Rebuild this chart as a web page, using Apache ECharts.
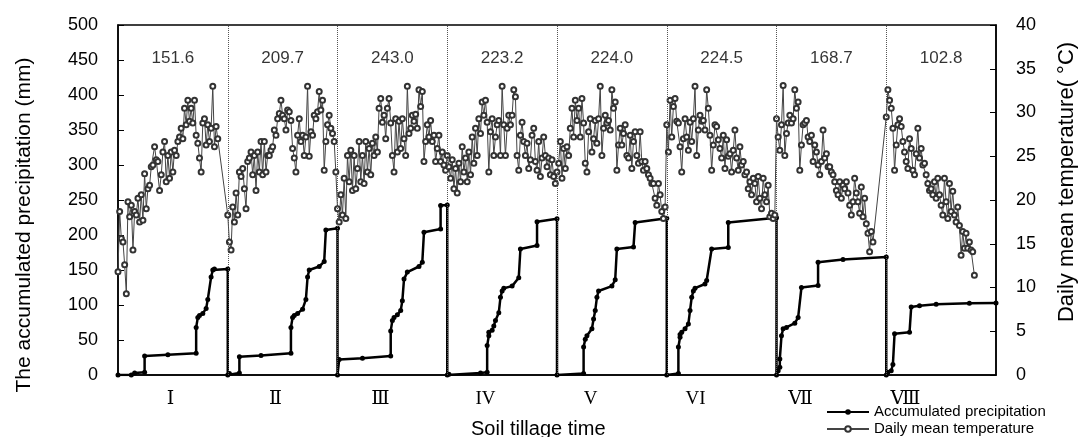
<!DOCTYPE html>
<html>
<head>
<meta charset="utf-8">
<script src="https://cdn.jsdelivr.net/npm/echarts@6/dist/echarts.min.js"></script>
<style>
  html, body { margin: 0; padding: 0; background: #fff; }
  #chart { width: 1086px; height: 437px; }
</style>
</head>
<body>
<div id="chart"></div>
<script>
// tillage times and accumulated precipitation of each period (mm)
const periods = ['Ⅰ', 'Ⅱ', 'Ⅲ', 'IV', 'V', 'VI', 'Ⅶ', 'Ⅷ'];
const totals = [151.6, 209.7, 243.0, 223.2, 224.0, 224.5, 168.7, 102.8];

// daily mean temperature (°C), one array per period
const tempI = [11.8,18.7,15.6,15.2,12.6,9.3,19.8,18.1,19.4,14.3,18.7,18.3,20.2,17.5,20.6,17.7,23.0,19.0,21.3,21.7,23.8,24.0,26.1,24.6,24.4,21.1,22.9,25.5,26.7,22.1,25.1,22.5,25.5,23.2,25.7,25.1,26.7,27.2,28.2,27.0,30.5,28.6,31.4,29.0,30.5,28.8,31.4,27.4,26.5,24.8,23.2,28.8,29.3,26.3,28.6,26.7,28.2,33.0,26.1,28.4,27.0];
const tempII = [18.3,15.2,14.3,19.2,17.5,20.8,18.3,23.2,22.7,23.6,21.3,19.0,24.4,24.8,25.5,22.9,25.1,21.1,25.5,23.2,26.7,22.9,26.7,23.2,25.1,25.1,25.7,26.1,28.0,27.4,29.3,29.9,31.4,29.7,29.3,28.0,30.3,30.1,29.1,25.9,24.8,23.2,27.4,29.3,26.7,27.4,25.1,27.2,33.0,25.0,27.8,27.4,29.7,29.3,30.1,32.4,30.3,31.4,23.4,26.7,28.6,29.7,28.2,27.6,26.7,23.2];
const tempIII = [19.0,17.5,20.6,18.3,22.5,17.9,25.1,22.1,25.7,21.1,25.1,21.3,23.6,26.7,22.1,25.1,21.9,26.7,23.2,25.9,22.9,26.5,25.1,27.2,25.5,30.5,31.6,28.9,29.7,27.0,30.5,31.6,28.8,25.1,23.2,29.3,25.5,29.0,25.9,29.3,27.0,25.1,33.0,27.6,28.2,29.7,29.0,29.8,28.2,32.6,30.7,32.4,24.4,26.7,28.6,27.2,29.1,26.7,27.4,24.4,25.9,27.4,24.4,25.5,24.0,23.4];
const tempIV = [25.1,23.8,22.5,24.6,21.3,23.6,20.8,24.2,22.1,26.1,23.2,24.8,22.1,25.5,22.9,27.2,24.2,28.2,25.1,29.3,27.6,31.2,29.7,31.4,28.9,23.2,27.8,29.3,25.1,27.2,28.6,29.1,25.1,33.0,28.6,25.1,28.2,29.7,28.6,29.7,32.6,31.8,25.1,23.4,27.4,28.9,26.7,25.1,26.5,23.6,24.6,27.4,28.2,24.4,23.4,26.7,22.7,24.8,27.2,25.1,23.8,24.8,22.9,24.6,22.7,21.9];
const tempV = [23.2,24.2,26.7,22.5,25.9,23.6,26.1,25.1,28.2,30.5,27.2,31.4,29.1,30.5,27.2,31.6,28.8,24.2,23.2,27.8,29.3,25.5,27.0,29.1,26.5,29.3,33.0,25.1,28.2,29.7,28.8,29.1,28.0,32.6,30.5,31.2,23.4,26.3,28.2,26.3,27.6,28.6,25.1,24.8,27.4,23.6,26.7,27.8,25.1,24.2,27.8,24.4,23.4,24.4,23.6,22.9,22.5,21.9,21.9,20.2,19.4,21.9,20.6,18.7,17.9,19.2];
const tempVI = [28.6,25.5,31.4,27.2,30.7,31.6,29.0,28.8,26.1,23.2,27.0,29.3,27.2,25.7,28.9,26.7,29.3,33.0,25.1,28.0,29.7,29.0,29.1,28.0,32.6,30.5,27.4,23.4,26.3,28.6,28.4,26.9,25.9,24.8,27.4,23.6,26.9,25.0,25.3,23.2,25.7,28.0,24.8,23.4,26.1,24.0,24.4,22.9,23.2,21.3,22.1,20.6,22.5,21.9,19.8,22.7,20.2,19.0,22.5,20.6,19.8,21.7,18.1,18.5,17.9,18.3];
const tempVII = [29.3,27.2,25.7,28.6,33.1,25.1,27.6,28.8,29.7,28.8,29.3,32.6,30.5,31.2,23.4,26.3,28.6,28.8,29.1,27.2,26.7,27.4,24.4,26.3,25.5,24.0,22.9,24.4,28.0,24.8,25.3,23.8,23.8,23.2,22.9,22.1,21.1,20.6,22.1,20.2,21.7,21.3,22.1,20.8,19.4,18.3,19.8,22.5,20.8,19.8,18.5,21.5,18.1,20.2,17.3,16.2,14.1,16.4,15.2];
const tempVIII = [29.5,32.6,31.4,30.5,28.2,23.4,26.3,28.6,29.3,28.4,26.7,25.5,24.4,23.6,27.0,25.9,23.4,22.9,25.3,28.2,24.8,25.9,24.0,24.2,22.9,21.9,21.1,21.3,20.6,22.1,20.2,22.5,20.6,19.4,18.3,22.5,19.8,17.9,21.9,18.7,21.0,18.3,17.5,19.2,17.1,13.7,16.4,14.5,16.2,14.5,15.2,14.3,14.1,11.4];

// accumulated precipitation (mm) at the days where it changes: [day, mm]
const precI = [[0,0],[8,0],[10,3],[16,4],[16,27],[30,29],[47,31],[47,68],[48,82],[49,85],[51,88],[53,95],[54,108],[56,140],[57,150],[58,151.6],[66,151.6]];
const precII = [[0,0],[1,2],[7,3],[7,26],[20,28],[38,31],[38,68],[39,82],[40,85],[42,88],[45,94],[47,108],[48,140],[49,150],[55,155],[58,162],[59,207],[66,209.7]];
const precIII = [[0,0],[1,22],[15,24],[32,27],[32,63],[33,78],[34,82],[36,86],[38,92],[39,106],[40,137],[42,147],[49,155],[51,161],[52,204],[62,208.6],[62,242],[66,243.0]];
const precIV = [[0,0],[1,1],[20,3],[24,4],[24,42],[25,56],[25,61],[27,64],[28,70],[29,78],[31,89],[32,111],[33,120],[34,124],[39,127],[43,139],[44,180],[54,185],[54,219],[66,223.2]];
const precV = [[0,0],[16,2],[16,40],[17,51],[18,56],[21,66],[22,80],[23,92],[24,111],[25,120],[33,127],[35,136],[36,180],[46,183],[47,218],[66,224.0]];
const precVI = [[0,0],[7,2],[7,40],[8,54],[8,58],[9,61],[11,66],[13,73],[14,92],[15,111],[16,120],[17,124],[23,130],[24,135],[27,180],[37,182],[37,218],[66,224.5]];
const precVII = [[0,0],[1,6],[2,11],[2,23],[3,56],[4,66],[6,68],[11,74],[13,82],[15,125],[25,128],[25,161],[40,165],[66,168.7]];
const precVIII = [[0,0],[1,4],[3,6],[4,15],[5,59],[14,61],[15,97],[20,99],[30,101],[50,102.5],[66,102.8]];

const SEG_DAYS = 66;
const tempSegs = [tempI, tempII, tempIII, tempIV, tempV, tempVI, tempVII, tempVIII];
const precSegs = [precI, precII, precIII, precIV, precV, precVI, precVII, precVIII];

let tempData = [];
tempSegs.forEach(function (arr, s) {
  arr.forEach(function (v, i) { tempData.push([s * SEG_DAYS + i, v]); });
});
let precData = [];
precSegs.forEach(function (arr, s) {
  arr.forEach(function (p) { precData.push([s * SEG_DAYS + p[0], p[1]]); });
});
let totalLabels = totals.map(function (t, s) {
  return { value: [s * SEG_DAYS + SEG_DAYS / 2, 453], label: { formatter: t.toFixed(1) } };
});
let dividers = [];
for (let s = 1; s < periods.length; s++) dividers.push({ xAxis: s * SEG_DAYS });

const font = 'Liberation Sans, Arial, sans-serif';
let myChart = echarts.init(document.getElementById('chart'));
myChart.setOption({
  animation: false,
  title: {
    text: 'Soil tillage time',
    left: 471, top: 419, padding: 0,
    textStyle: { fontFamily: font, fontSize: 20, fontWeight: 'normal', color: '#000' }
  },
  legend: {
    orient: 'vertical',
    left: 826, top: 404, height: 60, padding: 0,
    itemWidth: 42, itemHeight: 7, itemGap: 1,
    textStyle: { fontFamily: font, fontSize: 15, lineHeight: 16, color: '#000' },
    data: ['Accumulated precipitation', 'Daily mean temperature']
  },
  grid: [
    { left: 118, right: 89, top: 25, bottom: 62, show: true, borderColor: '#000', borderWidth: 1.5 },
    { left: 118, width: 840, top: 25, bottom: 62 }
  ],
  xAxis: [
    {
      type: 'value', min: 0, max: periods.length * SEG_DAYS,
      axisLine: { lineStyle: { color: '#000', width: 1.5 } },
      axisTick: { show: false }, axisLabel: { show: false }, splitLine: { show: false }
    },
    {
      type: 'category', gridIndex: 1, data: periods,
      axisLine: { show: false }, axisTick: { show: false },
      axisLabel: { margin: 15, fontFamily: 'Liberation Serif, DejaVu Serif, serif', fontSize: 19, color: '#000' }
    }
  ],
  yAxis: [
    {
      type: 'value', min: 0, max: 500, interval: 50,
      name: 'The accumulated precipitation (mm)', nameLocation: 'middle', nameGap: 83,
      nameTextStyle: { fontFamily: font, fontSize: 21, color: '#000', padding: [0, 50, 0, 0] },
      axisLine: { show: true, lineStyle: { color: '#000', width: 1.5 } },
      axisTick: { show: true, inside: true, length: 6, lineStyle: { color: '#000' } },
      axisLabel: { margin: 20, fontFamily: font, fontSize: 18, color: '#000' },
      splitLine: { show: false }
    },
    {
      type: 'value', min: 0, max: 40, interval: 5, position: 'right',
      name: 'Daily mean temperature( °C)', nameLocation: 'middle', nameGap: 60,
      nameTextStyle: { fontFamily: font, fontSize: 22, color: '#000', padding: [0, 0, 0, 36] },
      axisLine: { show: true, lineStyle: { color: '#000', width: 1.5 } },
      axisTick: { show: true, inside: true, length: 6, lineStyle: { color: '#000' } },
      axisLabel: { margin: 20, fontFamily: font, fontSize: 18, color: '#000' },
      splitLine: { show: false }
    },
    { type: 'value', gridIndex: 1, show: false }
  ],
  series: [
    {
      name: 'Accumulated precipitation',
      type: 'line',
      data: precData,
      symbol: 'circle', symbolSize: 5,
      itemStyle: { color: '#000' },
      lineStyle: { color: '#000', width: 2.5 },
      markLine: {
        silent: true, symbol: 'none',
        label: { show: false },
        lineStyle: { type: 'dotted', color: '#555', width: 1 },
        data: dividers
      }
    },
    {
      name: 'Daily mean temperature',
      type: 'line',
      yAxisIndex: 1,
      data: tempData,
      symbol: 'emptyCircle', symbolSize: 5,
      itemStyle: { color: '#333', borderColor: '#333', borderWidth: 1 },
      lineStyle: { color: '#444', width: 1 }
    },
    {
      type: 'scatter',
      data: totalLabels,
      symbolSize: 1,
      itemStyle: { color: 'rgba(0,0,0,0)' },
      label: { show: true, position: 'inside', fontFamily: font, fontSize: 17, color: '#000' },
      silent: true
    }
  ]
});
</script>
</body>
</html>
